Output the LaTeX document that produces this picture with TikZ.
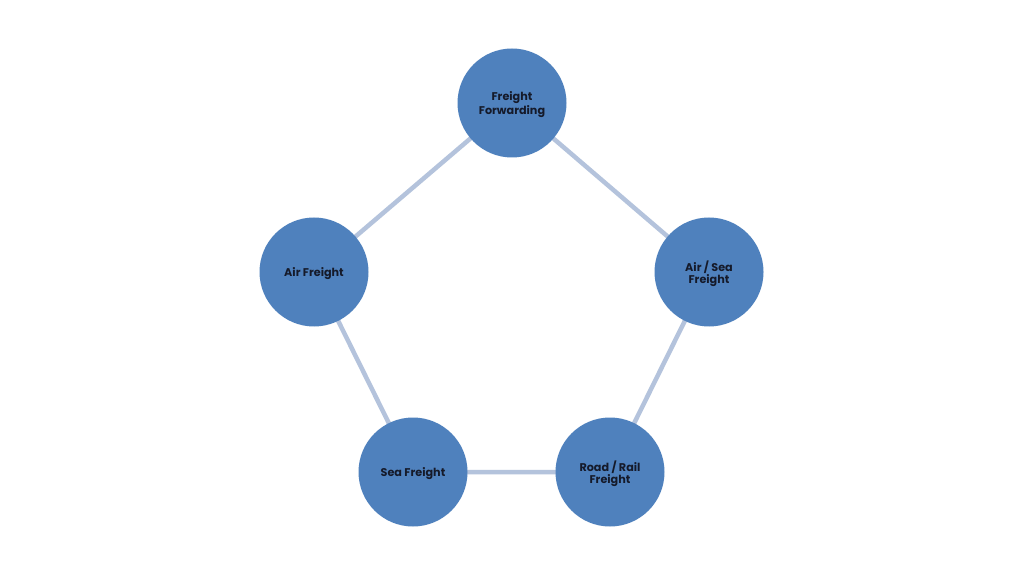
\documentclass[tikz,border=0pt]{standalone}
\usepackage{fontspec}
\setmainfont{Poppins}
\definecolor{nodeblue}{HTML}{4F81BD}
\definecolor{linkblue}{HTML}{B4C3DC}
\definecolor{txt}{HTML}{151A2A}
\begin{document}
\begin{tikzpicture}[x=1pt,y=1pt,
  hub/.style={circle,fill=nodeblue,minimum size=109pt,inner sep=0pt,align=center,
    text depth=0pt,font=\fontsize{11.2}{11.8}\selectfont\bfseries,text=txt},
  link/.style={draw=linkblue,line width=4.5pt}]
\useasboundingbox (0,0) rectangle (1024,576);
\fill[white] (0,0) rectangle (1024,576);
\coordinate (ca) at (512,473);
\coordinate (cb) at (709,304);
\coordinate (cc) at (610,104);
\coordinate (cd) at (413,104);
\coordinate (ce) at (314,304);
\draw[link] (ca) -- (cb) -- (cc) -- (cd) -- (ce) -- cycle;
\node[hub] (ff) at (ca) {Freight\\Forwarding};
\node[hub] (as) at (cb) {Air / Sea\\Freight};
\node[hub] (rr) at (cc) {Road / Rail\\Freight};
\node[hub] (sf) at (cd) {Sea Freight};
\node[hub] (af) at (ce) {Air Freight};
\end{tikzpicture}
\end{document}
